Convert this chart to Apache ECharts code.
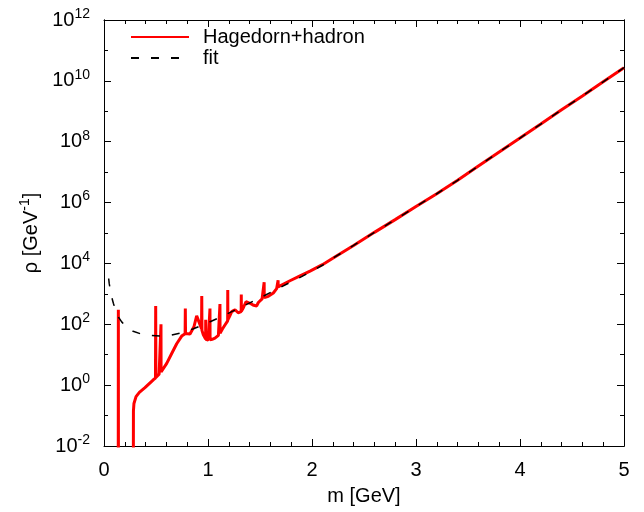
<!DOCTYPE html>
<html><head><meta charset="utf-8">
<script src="https://cdn.jsdelivr.net/npm/echarts@6/dist/echarts.min.js"></script>
<style>html,body{margin:0;padding:0;background:#fff}#c{width:644px;height:512px}</style>
</head><body><div id="c"></div>
<script>
// Hagedorn + hadron spectrum (red)
const hadronM = [0.137,0.138,0.139,0.282,0.283,0.288,0.308,0.340,0.394,0.474,0.495,0.497,0.499,0.530,0.547,0.548,0.549,0.603,0.651,0.699,0.747,0.780,0.782,0.784,0.827,0.865,0.891,0.913,0.938,0.940,0.942,0.955,0.977,0.978,0.979,0.990,1.003,1.018,1.019,1.020,1.040,1.067,1.100,1.114,1.115,1.116,1.140,1.163,1.189,1.190,1.191,1.210,1.228,1.260,1.290,1.319,1.320,1.321,1.340,1.365,1.404,1.440,1.468,1.484,1.520,1.539,1.540,1.541,1.580,1.628,1.660,1.673,1.674,1.675,1.708,1.788,1.885,1.981,2.1,2.2,2.4,2.6,2.8,3.0,3.2,3.4,3.6,3.8,4.0,4.2,4.4,4.6,4.8,5.0];
const hadronRho = [1e-3,3.0e2,1e-3,1e-3,1.4e-1,2.5e-1,4.2e-1,5.8e-1,8.3e-1,1.5,1.7,4.0e2,1.8,2.3,2.6,1.0e2,2.7,5.2,11,23,41,49,3.3e2,50,48,83,1.9e2,1.2e2,71,8.5e2,63,45,33,1.4e2,32,31,30,30,3.3e2,31,32,35,43,49,4.6e2,51,71,95,1.3e2,1.35e3,1.4e2,1.9e2,2.6e2,3.0e2,2.4e2,2.6e2,9.5e2,2.7e2,3.5e2,5.5e2,4.9e2,4.2e2,4.0e2,5.2e2,6.8e2,7.4e2,2.4e3,7.5e2,8.3e2,1.07e3,1.48e3,1.66e3,2.8e3,1.7e3,1.95e3,2.7e3,3.9e3,5.6e3,9.1e3,1.48e4,3.9e4,1.05e5,2.75e5,7.4e5,1.95e6,5.4e6,1.58e7,4.6e7,1.32e8,3.8e8,1.12e9,3.2e9,9.3e9,2.7e10];
// fit (dashed black)
const fitM = [0.045,0.05,0.07,0.09,0.11,0.14,0.17,0.22,0.28,0.35,0.45,0.54,0.65,0.76,0.86,0.96,1.1,1.3,1.5,1.7,1.9,2.1,2.2,2.4,2.6,2.8,3.0,3.2,3.4,3.6,3.8,4.0,4.2,4.4,4.6,4.8,5.0];
const fitRho = [3.2e3,2.2e3,8.9e2,4.9e2,3.0e2,1.7e2,1.2e2,79,59,49,43,41,44,54,71,98,1.6e2,3.4e2,7.4e2,1.66e3,3.7e3,8.7e3,1.48e4,3.9e4,1.05e5,2.75e5,7.4e5,1.95e6,5.4e6,1.58e7,4.6e7,1.32e8,3.8e8,1.12e9,3.2e9,9.3e9,2.7e10];
const xTickLabels = [0,1,2,3,4,5];
const yMajorTicks = [1e-2,1e0,1e2,1e4,1e6,1e8,1e10,1e12];
const yMinorTicks = [1e-1,1e1,1e3,1e5,1e7,1e9,1e11];

const FONT = 'Liberation Sans';
const lineSt = {color:'#000', width:1};
function pairs(xs, ys){ return xs.map((x,i)=>[x, ys[i]]); }

function xAx(pos, labels){
  return {type:'value', min:0, max:5, interval:1, position:pos,
    axisLine:{show:true, onZero:false, lineStyle:lineSt},
    axisTick:{show:true, inside:true, length:7, lineStyle:lineSt},
    minorTick:{show:true, splitNumber:5, length:4, lineStyle:lineSt},
    splitLine:{show:false}, minorSplitLine:{show:false},
    axisLabel:{show:labels, fontSize:20, color:'#000', fontFamily:FONT, margin:14,
      formatter:(v)=> xTickLabels.includes(v) ? String(v) : ''},
    name: labels ? 'm [GeV]' : '', nameLocation:'middle', nameGap:40,
    nameTextStyle:{fontSize:20, color:'#000', fontFamily:FONT}};
}
function yAx(pos, ticks, len, labels){
  const ax = {type:'log', logBase:10, min:1e-2, max:1e12, position:pos,
    axisLine:{show:true, onZero:false, lineStyle:lineSt},
    axisTick:{show:true, inside:true, length:len, lineStyle:lineSt, customValues:ticks},
    splitLine:{show:false},
    axisLabel:{show:labels, customValues:ticks, margin:14, color:'#000', fontFamily:FONT,
      formatter:(v)=>'{b|10}{s|' + Math.round(Math.log10(v)) + '}',
      rich:{b:{fontSize:20, fontFamily:FONT, color:'#000'},
            s:{fontSize:14, fontFamily:FONT, color:'#000', padding:[0,0,12,0]}}}};
  if (labels){
    ax.name = '{b|ρ [GeV}{s|-1}{b|]}';
    ax.nameLocation = 'middle';
    ax.nameGap = 60;
    ax.nameRotate = 90;
    ax.nameTextStyle = {fontFamily:FONT, color:'#000',
      rich:{b:{fontSize:20, fontFamily:FONT, color:'#000'},
            s:{fontSize:14, fontFamily:FONT, color:'#000', padding:[0,0,12,0]}}};
  }
  return ax;
}

const chart = echarts.init(document.getElementById('c'));
chart.setOption({
  animation:false,
  backgroundColor:'#fff',
  grid:{left:104, right:20, top:20, bottom:66, containLabel:false},
  xAxis:[xAx('bottom', true), xAx('top', false)],
  yAxis:[yAx('left', yMajorTicks, 7, true), yAx('left', yMinorTicks, 4, false),
         yAx('right', yMajorTicks, 7, false), yAx('right', yMinorTicks, 4, false)],
  legend:{orient:'vertical', left:130, top:27, padding:0, itemWidth:58, itemHeight:14, itemGap:1,
    itemStyle:{opacity:0},
    textStyle:{fontSize:20, color:'#000', fontFamily:FONT, padding:[0,0,0,9]},
    data:['Hagedorn+hadron','fit']},
  series:[
    {name:'Hagedorn+hadron', type:'line', xAxisIndex:0, yAxisIndex:0, data:pairs(hadronM, hadronRho),
     symbol:'none', color:'#ff0000', lineStyle:{color:'#ff0000', width:3}, z:2},
    {name:'fit', type:'line', xAxisIndex:0, yAxisIndex:0, data:pairs(fitM, fitRho),
     symbol:'none', color:'#000', lineStyle:{color:'#000', width:1.5, type:[8,12]}, z:3}
  ]
});
</script></body></html>
